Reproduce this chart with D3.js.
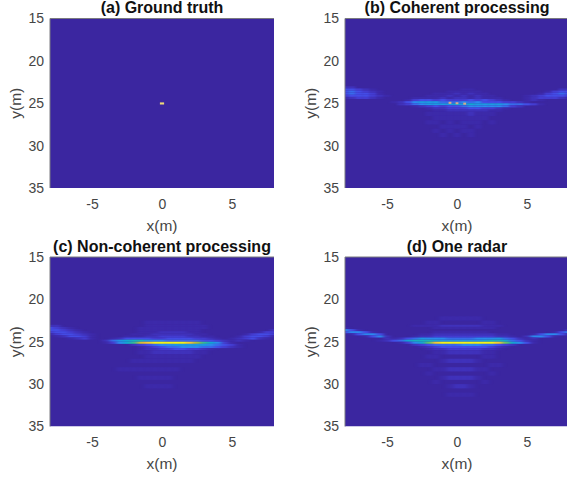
<!DOCTYPE html>
<html>
<head>
<meta charset="utf-8">
<script src="https://cdnjs.cloudflare.com/ajax/libs/d3/7.8.5/d3.min.js"></script>
<style>
html, body { margin: 0; padding: 0; background: #fff; overflow: hidden; }
text { font-family: "Liberation Sans", Arial, sans-serif; }
</style>
</head>
<body>
<div id="chart"></div>
<script>
const WIDTH = 567;
const HEIGHT = 478;

const xTicks = [-5, 0, 5];
const yTicks = [15, 20, 25, 30, 35];
const titles = ['(a) Ground truth', '(b) Coherent processing', '(c) Non-coherent processing', '(d) One radar'];

// x of each column, metres
const xColumns = [-8,-7.5,-7,-6.5,-6,-5.5,-5,-4.5,-4,-3.5,-3,-2.5,-2,-1.5,-1,-0.5,0,0.5,1,1.5,2,2.5,3,3.5,4,4.5,5,5.5,6,6.5,7,7.5,8];
// top edge of each row, metres. The last one only closes the grid
const yRows = [22,22.5,23,23.25,23.5,23.75,24,24.25,24.5,24.75,25,25.25,25.5,25.75,26,26.5,27,27.5,28,28.5,29,29.5,30,30.5,31,31.5];

// ground truth: a single scatterer
const truthX = [0];
const truthY = [25];

// the three bright spots in the coherent image
const coherentPeakX = [-0.5, 0, 0.55];
const coherentPeakY = [24.95, 25, 25.05];

// one string per row, one hex digit per column (0 = background, f = peak)
const coherentRows = [
  '000000000000000000000000000000000',
  '000000000000000000000000000000000',
  '220000000000000000000000000000000',
  '443210000000000001100000000000022',
  '454321000000000111110000000001344',
  '454431000000011121211000000013454',
  '344432100000111212121100001234443',
  '123321000011112122121110001233321',
  '000000000134434333434321001210000',
  '000000012467775556564443321000000',
  '000000002356777787877776554310000',
  '000000000012343445666665320000000',
  '000000000000122333443321000000000',
  '000000000000011222222110000000000',
  '000000000000111111211100000000000',
  '000000000000011111111000000000000',
  '000000000000110101110100000000000',
  '000000000000001111010000000000000',
  '000000000000010101100000000000000',
  '000000000000001010100000000000000',
  '000000000000000000000000000000000',
  '000000000000000000000000000000000',
  '000000000000000000000000000000000',
  '000000000000000000000000000000000',
  '000000000000000000000000000000000'
];

const noncoherentRows = [
  '000000000000000000000000000000000',
  '000000000000001111111100000000000',
  '220000000000001111111110000000000',
  '432100000000011111111110000000000',
  '443210000000011111111100000000002',
  '344321000000011122221100000000133',
  '134432100000111222222110000013443',
  '012443100001112233332211000134431',
  '000123100124444334444332101234210',
  '000000002578997665555544321210000',
  '000000001368adefffffeca8631000000',
  '000000000000234566777776543100000',
  '000000000000012345566655432100000',
  '000000000000012233443321000000000',
  '000000000000011222222110000000000',
  '000000000000001111111100000000000',
  '000000000000111111111000000000000',
  '000000000000000000000000000000000',
  '000000000011111111100000000000000',
  '000000000000000000000000000000000',
  '000000000000011111000000000000000',
  '000000000000000000000000000000000',
  '000000000000001111000000000000000',
  '000000000000000000000000000000000',
  '000000000000000000000000000000000'
];

const oneRadarRows = [
  '000000000000001111110000000000000',
  '000000000000110000001100000000000',
  '000000000011112222221110000000000',
  '100000000000011111111100000000000',
  '641000000000000000000000000000002',
  '466410000000011111111000000000146',
  '014664000001122222222211000146641',
  '000146200012233333333322102664100',
  '000000212457666555566675421200000',
  '000001245899987777778998542100000',
  '000000001368beffffffffeb864100000',
  '000000000023455556665543200000000',
  '000000000001234444444321000000000',
  '000000000000122333332210000000000',
  '000000000000011222221100000000000',
  '000000000000110000001100000000000',
  '000000000000001222210000000000000',
  '000000000001100000000110000000000',
  '000000000000011222211000000000000',
  '000000000000100000000100000000000',
  '000000000000001222210000000000000',
  '000000000000010000001000000000000',
  '000000000000000122100000000000000',
  '000000000000000000000000000000000',
  '000000000000000111100000000000000'
];

const panels = [
  {left: 50, top: 18.5, rows: null, truth: true},
  {left: 345, top: 18.5, rows: coherentRows, blur: '1.5 0.5', peaks: true},
  {left: 50, top: 257, rows: noncoherentRows, blur: '2.2 0.55'},
  {left: 345, top: 257, rows: oneRadarRows, blur: '2.2 0.5'}
];

const plotW = 224;
const plotH = 169.5;

// parula
const parula = d3.scaleLinear()
  .domain([0, 0.125, 0.25, 0.375, 0.5, 0.625, 0.75, 0.875, 1])
  .range(['#3b26a0', '#4746e6', '#2c8cf2', '#10a8d8', '#18bdb0', '#60c868', '#c8c028', '#fcbe3c', '#f9fb15']);
const colour = v => parula(Math.pow(v / 15, 1.5));

const svg = d3.select('#chart')
  .append('svg')
    .attr('width', WIDTH)
    .attr('height', HEIGHT);

const defs = svg.append('defs');

panels.forEach((p, i) => {
  const x = d3.scaleLinear().domain([-8, 8]).range([0, plotW]);
  const y = d3.scaleLinear().domain([15, 35]).range([0, plotH]);

  const g = svg.append('g').attr('transform', `translate(${p.left},${p.top})`);

  defs.append('clipPath').attr('id', 'clip' + i)
    .append('rect').attr('width', plotW).attr('height', plotH);

  const plot = g.append('g').attr('clip-path', `url(#clip${i})`);
  plot.append('rect')
    .attr('width', plotW)
    .attr('height', plotH)
    .attr('fill', colour(0));

  if (p.rows) {
    defs.append('filter').attr('id', 'soft' + i)
      .attr('x', '-10%').attr('y', '-10%').attr('width', '120%').attr('height', '120%')
      .attr('color-interpolation-filters', 'sRGB')
      .append('feGaussianBlur').attr('stdDeviation', p.blur);

    const cells = [];
    p.rows.forEach((row, r) => {
      row.split('').forEach((c, k) => {
        const v = parseInt(c, 16);
        if (v > 0) cells.push({x: xColumns[k], y0: yRows[r], y1: yRows[r + 1], v});
      });
    });

    plot.append('g')
      .attr('filter', `url(#soft${i})`)
      .selectAll('rect')
      .data(cells)
      .enter()
      .append('rect')
        .attr('x', d => x(d.x - 0.25))
        .attr('width', x(0.5) - x(0))
        .attr('y', d => y(d.y0))
        .attr('height', d => y(d.y1) - y(d.y0))
        .attr('fill', d => colour(d.v));
  }

  if (p.peaks) {
    plot.selectAll('.peak')
      .data(coherentPeakX)
      .enter()
      .append('rect')
        .attr('class', 'peak')
        .attr('x', d => x(d - 0.1))
        .attr('width', x(0.2) - x(0))
        .attr('y', (_, k) => y(coherentPeakY[k] - 0.12))
        .attr('height', y(15.24) - y(15))
        .attr('fill', '#d8a888');
  }

  if (p.truth) {
    plot.selectAll('.point')
      .data(truthX)
      .enter()
      .append('rect')
        .attr('class', 'point')
        .attr('x', d => x(d - 0.15))
        .attr('width', x(0.3) - x(0))
        .attr('y', (_, k) => y(truthY[k] - 0.1))
        .attr('height', y(15.25) - y(15))
        .attr('fill', '#eed878');
  }

  // box
  g.append('path')
    .attr('d', `M0,${plotH}V0H${plotW}`)
    .attr('fill', 'none')
    .attr('stroke', '#7a7a80')
    .attr('stroke-width', 1);

  const xAxis = d3.axisBottom(x).tickValues(xTicks).tickSize(0).tickPadding(11).tickFormat(d => String(d));
  const yAxis = d3.axisLeft(y).tickValues(yTicks).tickSize(0).tickPadding(6);

  const ax = g.append('g').attr('transform', `translate(0,${plotH})`).call(xAxis);
  const ay = g.append('g').call(yAxis);
  [ax, ay].forEach(a => {
    a.select('.domain').remove();
    a.selectAll('text').attr('font-size', 14).attr('font-family', null).attr('fill', '#454545');
  });

  g.append('text')
    .attr('x', plotW / 2)
    .attr('y', plotH + 42.5)
    .attr('text-anchor', 'middle')
    .attr('font-size', 15.5)
    .attr('fill', '#454545')
    .text('x(m)');

  g.append('text')
    .attr('transform', `translate(-29,${plotH / 2}) rotate(-90)`)
    .attr('text-anchor', 'middle')
    .attr('font-size', 15.5)
    .attr('fill', '#454545')
    .text('y(m)');

  g.append('text')
    .attr('x', plotW / 2)
    .attr('y', -5.5)
    .attr('text-anchor', 'middle')
    .attr('font-size', 16)
    .attr('font-weight', 'bold')
    .attr('fill', '#111')
    .text(titles[i]);
});
</script>
</body>
</html>
